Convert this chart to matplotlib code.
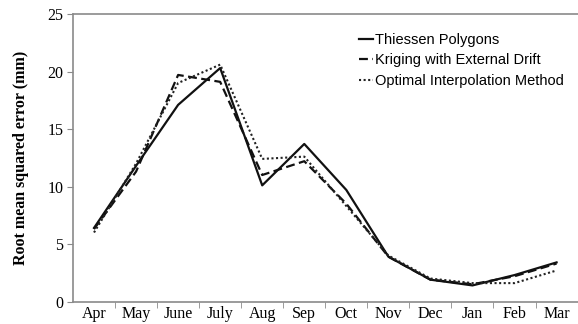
import matplotlib
matplotlib.use("Agg")
import matplotlib.pyplot as plt
import numpy as np

months = ["Apr", "May", "June", "July", "Aug", "Sep", "Oct", "Nov", "Dec", "Jan", "Feb", "Mar"]
thiessen = [6.4, 11.8, 17.1, 20.3, 10.1, 13.7, 9.7, 3.9, 1.9, 1.4, 2.3, 3.4]
kriging = [6.3, 11.3, 19.7, 19.1, 11.0, 12.2, 8.5, 3.9, 1.9, 1.5, 2.2, 3.3]
optimal = [6.0, 12.0, 19.0, 20.6, 12.4, 12.6, 8.3, 4.0, 2.0, 1.6, 1.6, 2.7]
y_ticks = [0, 5, 10, 15, 20, 25]

serif = ["Liberation Serif", "DejaVu Serif"]
sans = ["Liberation Sans", "DejaVu Sans"]
spine_col = "#8a8a8a"

fig = plt.figure(figsize=(5.78, 3.24), dpi=100)
ax = fig.add_axes([0.1263, 0.0694, 0.873, 0.8874])

x = np.arange(len(months))
ax.plot(x, thiessen, color="#111111", lw=1.6, ls="-", label="Thiessen Polygons")
ax.plot(x, kriging, color="#111111", lw=1.6, ls=(0, (4, 2)), label="Kriging with External Drift")
ax.plot(x, optimal, color="#222222", lw=1.5, ls=(0, (1, 1.2)), label="Optimal Interpolation Method")

ax.set_xlim(-0.5, len(months) - 0.5)
ax.set_ylim(0, 25)
ax.set_yticks(y_ticks)
ax.set_yticklabels([str(t) for t in y_ticks], family=serif, fontsize=11.5)
ax.set_xticks(x)
ax.set_xticklabels(months, family=serif, fontsize=11.5)
ax.set_xticks(np.arange(0.5, len(months) - 0.5), minor=True)
ax.tick_params(axis="x", which="major", length=0, pad=3)
ax.tick_params(axis="x", which="minor", length=4, direction="out", color=spine_col)
ax.tick_params(axis="y", length=4, direction="out", color=spine_col, pad=3)

for side in ["left", "bottom", "top"]:
    ax.spines[side].set_color(spine_col)
    ax.spines[side].set_linewidth(1.2)
ax.spines["right"].set_visible(False)

ax.set_ylabel("Root mean squared error (mm)", family=serif, fontsize=11.5,
              fontweight="bold", labelpad=13)

leg = ax.legend(loc="upper left", bbox_to_anchor=(0.552, 0.96), frameon=False,
                prop={"family": sans, "size": 10.5}, handlelength=1.0,
                handletextpad=0.1, borderpad=0, labelspacing=0.45)

fig.savefig("out.png", dpi=100)
